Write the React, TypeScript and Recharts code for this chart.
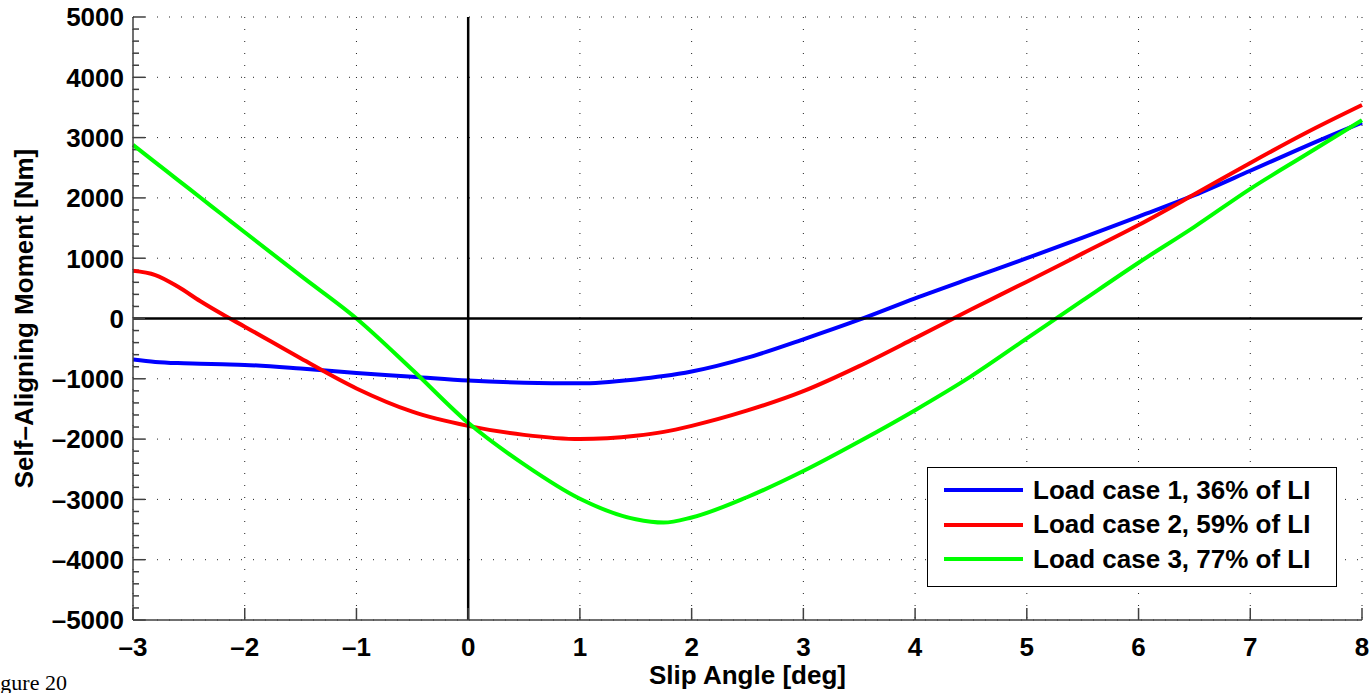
import {
  CartesianGrid,
  Legend,
  Line,
  LineChart,
  ReferenceLine,
  XAxis,
  YAxis,
} from "recharts";

const slipAngle = [
  -3, -2.8, -2.6, -2.4, -2.2, -2, -1.5, -1, -0.5, 0, 0.5, 1, 1.5, 1.75, 2, 2.5,
  3, 3.5, 4, 4.5, 5, 5.5, 6, 6.5, 7, 7.5, 8,
];
const loadCase1 = [
  -680, -720, -740, -750, -760, -770, -830, -905, -965, -1030, -1065, -1075,
  -1010, -955, -880, -650, -345, -20, 335, 670, 1000, 1340, 1690, 2045, 2450,
  2860, 3250,
];
const loadCase2 = [
  790, 720, 530, 290, 70, -135, -660, -1160, -1545, -1780, -1930, -2000, -1945,
  -1880, -1780, -1525, -1205, -790, -325, 150, 610, 1080, 1550, 2060, 2580,
  3080, 3540,
];
const loadCase3 = [
  2880, 2590, 2300, 2010, 1720, 1430, 710, 0, -850, -1730, -2420, -2990, -3330,
  -3385, -3300, -2960, -2530, -2040, -1520, -960, -330, 300, 925, 1520, 2150,
  2720, 3290,
];

const seriesNames = [
  "Load case 1, 36% of LI",
  "Load case 2, 59% of LI",
  "Load case 3, 77% of LI",
];
const seriesColors = ["#0000ff", "#ff0000", "#00ff00"];

const xTicks = [-3, -2, -1, 0, 1, 2, 3, 4, 5, 6, 7, 8];
const yTicks = [-5000, -4000, -3000, -2000, -1000, 0, 1000, 2000, 3000, 4000, 5000];
const yMinorTicks = yTicks
  .slice(0, -1)
  .flatMap((v) => [v + 200, v + 400, v + 600, v + 800]);

const rows = slipAngle.map((x, i) => ({
  x,
  lc1: loadCase1[i],
  lc2: loadCase2[i],
  lc3: loadCase3[i],
}));

const FONT = '"Liberation Sans", Arial, Helvetica, sans-serif';
const AXIS = "#404040";

const fmt = (v: number) => (v < 0 ? "\u2013" + Math.abs(v) : String(v));

function XTick({ x, y, payload }: any) {
  return (
    <g>
      <line x1={x} x2={x} y1={y} y2={y - 12} stroke={AXIS} strokeWidth={1.5} />
      <text
        x={x}
        y={y + 36}
        textAnchor="middle"
        fontSize={26}
        fontWeight="bold"
        fontFamily={FONT}
        fill="#000"
      >
        {fmt(payload.value)}
      </text>
    </g>
  );
}

function YTick({ x, y, payload }: any) {
  return (
    <g>
      <line x1={x} x2={x + 12} y1={y} y2={y} stroke={AXIS} strokeWidth={1.5} />
      <text
        x={x - 9}
        y={y}
        dy="0.36em"
        textAnchor="end"
        fontSize={26}
        fontWeight="bold"
        fontFamily={FONT}
        fill="#000"
      >
        {fmt(payload.value)}
      </text>
    </g>
  );
}

function LegendBox() {
  return (
    <div
      style={{
        width: 408,
        height: 113,
        border: "1.5px solid #000",
        background: "#fff",
        paddingTop: 5,
        boxSizing: "content-box",
        fontFamily: FONT,
      }}
    >
      {seriesNames.map((name, i) => (
        <div
          key={name}
          style={{ display: "flex", alignItems: "center", height: 34.5 }}
        >
          <span
            style={{
              display: "inline-block",
              width: 79,
              height: 4,
              marginLeft: 16,
              marginRight: 10,
              background: seriesColors[i],
            }}
          />
          <span style={{ fontSize: 26, fontWeight: "bold", whiteSpace: "nowrap" }}>
            {name}
          </span>
        </div>
      ))}
    </div>
  );
}

export default function App() {
  return (
    <div
      style={{
        position: "absolute",
        left: 0,
        top: 0,
        width: 1372,
        height: 693,
        background: "#fff",
        overflow: "hidden",
      }}
    >
      <LineChart
        width={1372}
        height={693}
        data={rows}
        margin={{ top: 17, right: 10, bottom: 0, left: 0 }}
      >
        <CartesianGrid stroke="#222" strokeDasharray="1 11" />
        <XAxis
          type="number"
          dataKey="x"
          domain={[-3, 8]}
          ticks={xTicks}
          height={73}
          tickSize={0}
          tickMargin={0}
          tick={<XTick />}
          stroke={AXIS}
          strokeWidth={1.5}
          label={{
            content: ({ viewBox }: any) => (
              <text
                x={viewBox.x + viewBox.width / 2}
                y={viewBox.y + 64}
                textAnchor="middle"
                fontSize={26}
                fontWeight="bold"
                fontFamily={FONT}
              >
                Slip Angle [deg]
              </text>
            ),
          }}
        />
        <YAxis
          type="number"
          domain={[-5000, 5000]}
          ticks={yTicks}
          width={133}
          tickSize={0}
          tickMargin={0}
          tick={<YTick />}
          stroke={AXIS}
          strokeWidth={1.5}
          label={{
            content: ({ viewBox }: any) => {
              const cx = 33;
              const cy = viewBox.y + viewBox.height / 2;
              return (
                <text
                  x={cx}
                  y={cy}
                  transform={`rotate(-90 ${cx} ${cy})`}
                  textAnchor="middle"
                  fontSize={26}
                  fontWeight="bold"
                  fontFamily={FONT}
                >
                  Self–Aligning Moment [Nm]
                </text>
              );
            },
          }}
        />
        {yMinorTicks.map((v) => (
          <ReferenceLine
            key={v}
            segment={[
              { x: -3, y: v },
              { x: -2.946, y: v },
            ]}
            stroke={AXIS}
            strokeWidth={1.5}
          />
        ))}
        <Line
          dataKey="lc1"
          name={seriesNames[0]}
          type="monotone"
          stroke={seriesColors[0]}
          strokeWidth={4}
          dot={false}
          isAnimationActive={false}
        />
        <Line
          dataKey="lc2"
          name={seriesNames[1]}
          type="monotone"
          stroke={seriesColors[1]}
          strokeWidth={4}
          dot={false}
          isAnimationActive={false}
        />
        <Line
          dataKey="lc3"
          name={seriesNames[2]}
          type="monotone"
          stroke={seriesColors[2]}
          strokeWidth={4}
          dot={false}
          isAnimationActive={false}
        />
        <ReferenceLine x={0} stroke="#000" strokeWidth={2.5} />
        <ReferenceLine y={0} stroke="#000" strokeWidth={2.5} />
        <Legend
          layout="vertical"
          align="center"
          verticalAlign="middle"
          content={<LegendBox />}
          wrapperStyle={{ position: "absolute", left: 927, top: 467, width: "auto" }}
        />
      </LineChart>
      <div
        style={{
          position: "absolute",
          left: -18,
          top: 670,
          fontFamily: '"Liberation Serif", "Times New Roman", serif',
          fontSize: 22,
          whiteSpace: "nowrap",
        }}
      >
        Figure 20
      </div>
    </div>
  );
}
